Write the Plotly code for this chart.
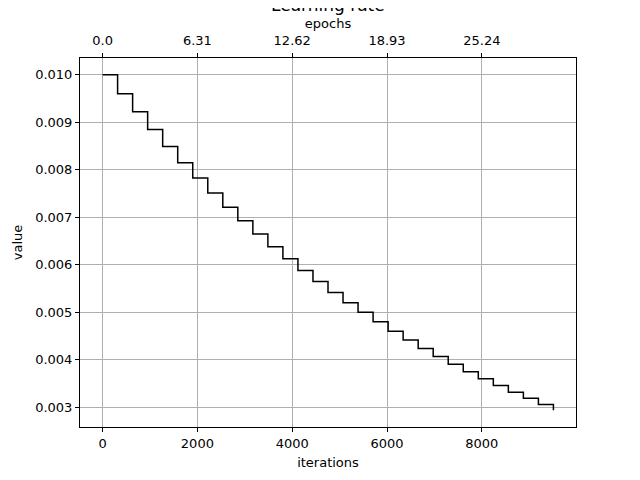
import plotly.graph_objects as go

# learning rate per epoch (step decay)
iterations = [0, 317, 634, 951, 1268, 1585, 1902, 2219, 2536, 2853,
              3170, 3487, 3804, 4121, 4438, 4755, 5072, 5389, 5706, 6023,
              6340, 6657, 6974, 7291, 7608, 7925, 8242, 8559, 8876, 9193, 9510]
lr_values = [0.01000, 0.00960, 0.00922, 0.00885, 0.00849, 0.00815, 0.00783, 0.00751,
             0.00721, 0.00693, 0.00665, 0.00638, 0.00613, 0.00588, 0.00565, 0.00542,
             0.00520, 0.00500, 0.00480, 0.00460, 0.00442, 0.00424, 0.00407, 0.00391,
             0.00375, 0.00360, 0.00346, 0.00332, 0.00319, 0.00306, 0.00294]

iter_ticks = [0, 2000, 4000, 6000, 8000]
epoch_labels = ["0.0", "6.31", "12.62", "18.93", "25.24"]
lr_ticks = [0.003, 0.004, 0.005, 0.006, 0.007, 0.008, 0.009, 0.010]

x_range = [-476, 9986]
y_range = [0.002587, 0.010353]

fig = go.Figure()
fig.add_trace(go.Scatter(x=iterations, y=lr_values, mode="lines", line_shape="hv",
                         line=dict(color="black", width=1.5), showlegend=False))
# invisible trace so the top axis is drawn
fig.add_trace(go.Scatter(x=iter_ticks, y=[lr_values[0]] * len(iter_ticks), xaxis="x2",
                         mode="markers", marker=dict(opacity=0), showlegend=False,
                         hoverinfo="skip"))

axis_common = dict(showline=True, linecolor="black", linewidth=1, ticks="outside",
                   ticklen=4, tickcolor="black", zeroline=False, automargin=False,
                   tickfont=dict(size=13, color="black"))

# page body has an 8px margin, so margins are shifted to compensate
fig.update_layout(
    width=640, height=480,
    margin=dict(l=72, r=72, t=50, b=61),
    plot_bgcolor="white", paper_bgcolor="white",
    font=dict(family="DejaVu Sans", size=13, color="black"),
    xaxis=dict(range=x_range, tickvals=iter_ticks, mirror=True, showgrid=True,
               gridcolor="#b0b0b0", gridwidth=1,
               title=dict(text="iterations", standoff=8, font=dict(size=13)), **axis_common),
    xaxis2=dict(range=x_range, overlaying="x", side="top", tickvals=iter_ticks,
                ticktext=epoch_labels, showgrid=False, ticklabelstandoff=3,
                title=dict(text="epochs", standoff=1, font=dict(size=13)), **axis_common),
    yaxis=dict(range=y_range, tickvals=lr_ticks, tickformat=".3f", mirror=True,
               showgrid=True, gridcolor="#b0b0b0", gridwidth=1,
               title=dict(text="value", standoff=9, font=dict(size=13)), **axis_common),
    annotations=[dict(text="Learning rate", x=0.5, xref="paper", y=1.0, yref="paper",
                      yanchor="bottom", yshift=41, showarrow=False,
                      font=dict(size=17, color="black"))],
)

fig.write_html("out.html")
